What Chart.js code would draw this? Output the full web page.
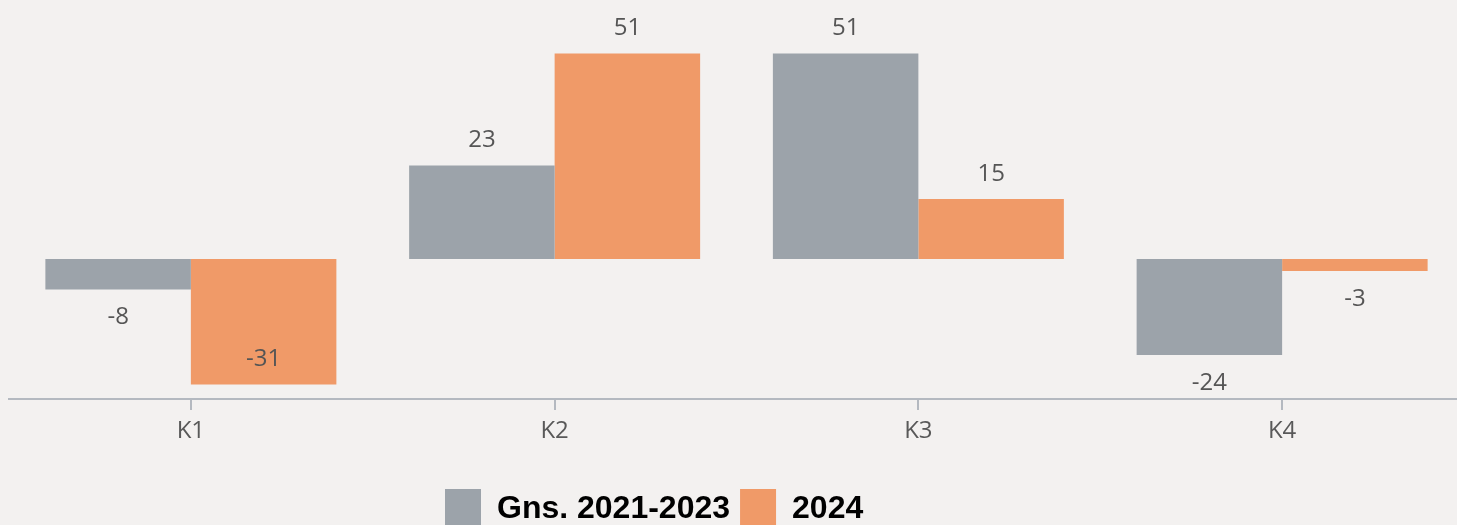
<!DOCTYPE html>
<html>
<head>
<meta charset="utf-8">
<script src="https://cdn.jsdelivr.net/npm/chart.js@4/dist/chart.umd.min.js"></script>
<style>
  html, body { margin: 0; padding: 0; background: #f3f1f0; overflow: hidden; }
  #wrap { position: relative; width: 1464px; height: 539px; }
</style>
</head>
<body>
<div id="wrap"><canvas id="c"></canvas></div>
<script>
const categories = ['K1', 'K2', 'K3', 'K4'];
const seriesNames = ['Gns. 2021-2023', '2024'];
const avgValues = [-7.6, 23.4, 51.4, -24];
const values2024 = [-31.4, 51.4, 15, -3];
const yMin = -35;
const yMax = 60;

const bgPlugin = {
  id: 'bg',
  beforeDraw(chart) {
    const ctx = chart.ctx;
    ctx.save();
    ctx.fillStyle = '#f3f1f0';
    ctx.fillRect(0, 0, chart.width, chart.height);
    ctx.restore();
  }
};

const legendShift = {
  id: 'legendShift',
  afterLayout(chart) {
    if (chart.legend) {
      chart.legend.left = 435;
    }
  }
};

const valueLabels = {
  id: 'valueLabels',
  afterDatasetsDraw(chart) {
    const ctx = chart.ctx;
    const area = chart.chartArea;
    ctx.save();
    ctx.font = '24px "Open Sans"';
    ctx.fillStyle = '#555555';
    ctx.textAlign = 'center';
    ctx.textBaseline = 'middle';
    chart.data.datasets.forEach((ds, di) => {
      const meta = chart.getDatasetMeta(di);
      meta.data.forEach((el, i) => {
        const v = ds.data[i];
        let y;
        if (v >= 0) {
          y = el.y - 25;
        } else {
          y = el.y + 28;
          if (y + 12 > area.bottom) y = el.y - 25;
        }
        ctx.fillText(String(Math.round(v)), el.x, y);
      });
    });
    ctx.restore();
  }
};

new Chart(document.getElementById('c'), {
  type: 'bar',
  data: {
    labels: categories,
    datasets: [
      { label: seriesNames[0], data: avgValues, backgroundColor: '#9ca3aa', borderWidth: 0 },
      { label: seriesNames[1], data: values2024, backgroundColor: '#f09a68', borderWidth: 0 }
    ]
  },
  options: {
    responsive: true,
    maintainAspectRatio: false,
    animation: false,
    categoryPercentage: 0.8,
    barPercentage: 1.0,
    layout: { padding: { top: 19, left: 9, right: 0, bottom: 0 } },
    plugins: {
      tooltip: { enabled: false },
      legend: {
        position: 'bottom',
        align: 'start',
        labels: {
          boxWidth: 36,
          boxHeight: 40,
          padding: 10,
          color: '#000000',
          font: { family: '"Liberation Sans", Arial, sans-serif', size: 32, weight: 'bold' }
        }
      }
    },
    scales: {
      x: {
        offset: true,
        grid: {
          offset: false,
          drawOnChartArea: false,
          drawTicks: true,
          tickLength: 11,
          color: '#b4b9c0',
          lineWidth: 2
        },
        border: { display: true, color: '#b4b9c0', width: 2 },
        ticks: {
          color: '#595959',
          padding: 7,
          font: { family: '"Open Sans"', size: 24 }
        },
        afterFit(scale) { scale.height = 80; }
      },
      y: {
        display: false,
        min: yMin,
        max: yMax
      }
    }
  },
  plugins: [bgPlugin, legendShift, valueLabels]
});
</script>
</body>
</html>
